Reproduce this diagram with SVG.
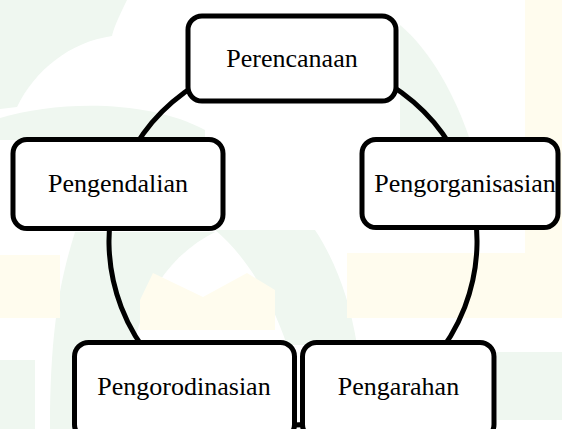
<svg xmlns="http://www.w3.org/2000/svg" width="562" height="429" viewBox="0 0 562 429">
  <style>
    .wm-g { fill: #eff7f0; }
    .wm-y { fill: #fffcee; }
    .box { fill: #ffffff; stroke: #000000; stroke-width: 5; }
    .lbl { font-family: "Liberation Serif", "Times New Roman", serif; font-size: 26px; fill: #000000; text-anchor: middle; }
    .conn { fill: none; stroke: #000000; stroke-width: 5; }
  </style>
  <rect width="562" height="429" fill="#ffffff"/>
  <g id="watermark">
    <path class="wm-g" d="M0,0 L127,0 C118,18 113,30 112,36 C70,42 35,70 17,107 L0,109 Z"/>
    <path class="wm-g" d="M0,118 C60,100 150,100 205,130 L205,140 L0,140 Z"/>
    <path class="wm-g" d="M400,25 C430,50 455,95 470,140 L400,140 Z"/>
    <path class="wm-g" d="M215,230 C245,255 270,295 287,345 L357,345 C350,300 335,260 315,230 Z"/>
    <path class="wm-g" d="M75,232 L215,232 C180,250 150,280 135,340 L140,429 L50,429 C50,330 60,280 75,232 Z"/>
    <rect class="wm-g" x="0" y="360" width="35" height="69"/>
    <rect class="wm-g" x="497" y="352" width="65" height="68"/>
    <rect class="wm-y" x="525" y="0" width="37" height="318"/>
    <rect class="wm-y" x="347" y="253" width="215" height="65"/>
    <rect class="wm-y" x="0" y="255" width="60" height="63"/>
    <path class="wm-y" d="M153,273 L203,297 L247,273 L275,290 L275,330 L140,330 L140,300 Z"/>
  </g>
  <g id="connectors">
    <path class="conn" d="M293,57 A184,184 0 0 1 468.3,185"/>
    <path class="conn" d="M468.3,185 A184,184 0 0 1 385.6,400"/>
    <path class="conn" d="M385.6,400 A184,184 0 0 1 200.4,400"/>
    <path class="conn" d="M200.4,400 A184,184 0 0 1 117.7,185"/>
    <path class="conn" d="M117.7,185 A184,184 0 0 1 293,57"/>
  </g>
  <g id="perencanaan">
    <rect class="box" x="188" y="16" width="208" height="85" rx="14"/>
    <text class="lbl" x="292" y="67">Perencanaan</text>
  </g>
  <g id="pengendalian">
    <rect class="box" x="13" y="139.5" width="210" height="89" rx="14"/>
    <text class="lbl" x="118" y="192">Pengendalian</text>
  </g>
  <g id="pengorganisasian">
    <rect class="box" x="362" y="139.5" width="196" height="88" rx="14"/>
    <text class="lbl" x="465" y="192">Pengorganisasian</text>
  </g>
  <g id="pengorodinasian">
    <rect class="box" x="74.5" y="342.5" width="220" height="96" rx="14"/>
    <text class="lbl" x="184" y="395">Pengorodinasian</text>
  </g>
  <g id="pengarahan">
    <rect class="box" x="302.5" y="342.5" width="191.5" height="96" rx="14"/>
    <text class="lbl" x="398.5" y="395">Pengarahan</text>
  </g>
</svg>
